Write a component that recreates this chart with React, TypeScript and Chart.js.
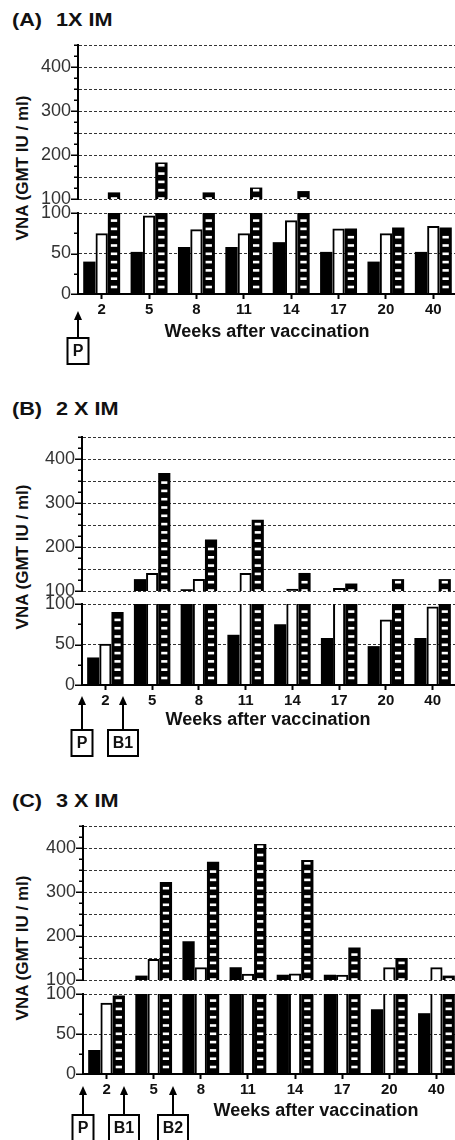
import React, { useEffect, useRef } from 'react';
import { Chart, registerables } from 'chart.js';

Chart.register(...registerables);

// ---------- data ----------
const WEEKS = ['2', '5', '8', '11', '14', '17', '20', '40'];

const A_BLACK = [40, 52, 58, 58, 64, 52, 40, 52];
const A_WHITE = [75, 97, 80, 75, 91, 81, 75, 84];
const A_STRIPED = [115, 183, 115, 126, 118, 81, 82, 82];

const B_BLACK = [34, 127, 104, 62, 75, 58, 48, 58];
const B_WHITE = [51, 141, 127, 141, 105, 107, 81, 97];
const B_STRIPED = [90, 368, 217, 262, 141, 117, 127, 127];

const C_BLACK = [30, 110, 188, 129, 112, 112, 81, 76];
const C_WHITE = [89, 148, 129, 114, 115, 112, 129, 129];
const C_STRIPED = [98, 323, 369, 409, 373, 174, 150, 110];

const UPPER_LABELED = [100, 200, 300, 400];
const LOWER_LABELED = [0, 50, 100];

const A_MARKS = [{ label: 'P', at: -0.5 }];
const B_MARKS = [{ label: 'P', at: -0.5 }, { label: 'B1', at: 0.38 }];
const C_MARKS = [{ label: 'P', at: -0.5 }, { label: 'B1', at: 0.37 }, { label: 'B2', at: 1.41 }];

const X_TITLE = 'Weeks after vaccination';
const Y_TITLE = 'VNA (GMT IU / ml)';

// ---------- layout / style ----------
const FONT = '"Liberation Sans", Arial, Helvetica, sans-serif';
const PAD_TOP = 20;
const PAD_BOT_UP = 20;
const X_AXIS_H = 25;
const PAD_BOT_LO = 50;

type Layout = {
  upTop: number; upBot: number; loTop: number; loBot: number;
  left: number; right: number; headY: number; tipOff: number; boxOff: number;
  titleX: number; titleOff: number; yTitleY: number;
};

const PANELS = [
  {
    tag: '(A)', name: '1X IM', black: A_BLACK, white: A_WHITE, striped: A_STRIPED, marks: A_MARKS,
    L: { upTop: 45, upBot: 199, loTop: 213, loBot: 296, left: 78, right: 457, headY: 20, tipOff: 17, boxOff: 44, titleX: 267, titleOff: 38, yTitleY: 168 } as Layout,
  },
  {
    tag: '(B)', name: '2 X IM', black: B_BLACK, white: B_WHITE, striped: B_STRIPED, marks: B_MARKS,
    L: { upTop: 437, upBot: 591, loTop: 604, loBot: 687, left: 82, right: 456, headY: 409, tipOff: 11, boxOff: 45, titleX: 268, titleOff: 35, yTitleY: 557 } as Layout,
  },
  {
    tag: '(C)', name: '3 X IM', black: C_BLACK, white: C_WHITE, striped: C_STRIPED, marks: C_MARKS,
    L: { upTop: 826, upBot: 980, loTop: 994, loBot: 1076, left: 83, right: 460, headY: 801, tipOff: 12, boxOff: 41, titleX: 316, titleOff: 37, yTitleY: 948 } as Layout,
  },
];

type Panel = typeof PANELS[number];

function makeChart(canvas: HTMLCanvasElement, p: Panel, upper: boolean) {
  const L = p.L;
  const cut = (arr: number[]) => (upper ? arr.map((v) => (v > 100 ? v : null)) : arr.map((v) => Math.min(v, 100)));
  const labeled = upper ? UPPER_LABELED : LOWER_LABELED;

  const stripes = {
    id: 'stripes',
    afterDatasetsDraw(chart: any) {
      const meta = chart.getDatasetMeta(2);
      const ctx = chart.ctx;
      const a = chart.chartArea;
      ctx.save();
      ctx.beginPath();
      ctx.rect(a.left, a.top, a.right - a.left, a.bottom - a.top);
      ctx.clip();
      ctx.fillStyle = '#fff';
      meta.data.forEach((bar: any) => {
        const q = bar.getProps(['x', 'y', 'base', 'width'], true);
        if (!isFinite(q.y) || !isFinite(q.base)) return;
        const left = q.x - q.width / 2 + 3;
        const w = q.width - 6;
        const top = Math.min(q.y, q.base);
        const bottom = Math.max(q.y, q.base);
        const first = upper ? 3 : 6.5;
        for (let c = bottom - first; c - 1.3 > top + 1.2; c -= 8.3) {
          ctx.fillRect(left, c - 1.3, w, 2.6);
        }
      });
      ctx.restore();
    },
  };

  const extras = {
    id: 'extras',
    afterDraw(chart: any) {
      const ctx = chart.ctx;
      const ys = chart.scales.y;
      const x0 = chart.chartArea.left;
      ctx.save();
      ctx.strokeStyle = '#000';
      ctx.lineWidth = 1.5;
      ys.ticks.forEach((t: any) => {
        const y = Math.round(ys.getPixelForValue(t.value)) + 0.25;
        const major = labeled.includes(t.value);
        ctx.beginPath();
        ctx.moveTo(x0 - 1, y);
        ctx.lineTo(x0 - (major ? 7 : 4), y);
        ctx.stroke();
      });
      if (!upper) {
        const xs = chart.scales.x;
        const base = chart.chartArea.bottom;
        // x title
        ctx.fillStyle = '#111';
        ctx.font = `bold 18px ${FONT}`;
        ctx.textAlign = 'center';
        ctx.textBaseline = 'middle';
        ctx.fillText(X_TITLE, L.titleX, base + L.titleOff);
        // annotations
        p.marks.forEach((m) => {
          const x = Math.round(xs.getPixelForValue(m.at));
          const tip = base + L.tipOff;
          const boxTop = base + L.boxOff;
          const bw = m.label.length > 1 ? 30 : 21;
          const bh = 26;
          ctx.strokeStyle = '#000';
          ctx.fillStyle = '#000';
          ctx.lineWidth = 2;
          ctx.beginPath();
          ctx.moveTo(x, tip + 6);
          ctx.lineTo(x, boxTop);
          ctx.stroke();
          ctx.beginPath();
          ctx.moveTo(x, tip);
          ctx.lineTo(x - 4, tip + 9);
          ctx.lineTo(x + 4, tip + 9);
          ctx.closePath();
          ctx.fill();
          ctx.strokeRect(x - bw / 2, boxTop, bw, bh);
          ctx.fillStyle = '#111';
          ctx.font = `bold 16px ${FONT}`;
          ctx.textAlign = 'center';
          ctx.textBaseline = 'middle';
          ctx.fillText(m.label, x, boxTop + bh / 2 + 1);
        });
      }
      ctx.restore();
    },
  };

  const whiteBorder = (c: any) =>
    !upper && p.white[c.dataIndex] > 100 ? { left: 2, right: 2, top: 0, bottom: 0 } : 2;

  return new Chart(canvas, {
    type: 'bar',
    data: {
      labels: WEEKS,
      datasets: [
        { label: 'black', data: cut(p.black), backgroundColor: '#000', borderColor: '#000', borderWidth: 0 },
        { label: 'white', data: cut(p.white), backgroundColor: 'rgba(255,255,255,0)', borderColor: '#000', borderWidth: whiteBorder as any },
        { label: 'striped', data: cut(p.striped), backgroundColor: '#000', borderColor: '#000', borderWidth: 0 },
      ],
    },
    options: {
      animation: false,
      responsive: false,
      maintainAspectRatio: false,
      events: [],
      layout: { padding: { top: PAD_TOP, bottom: upper ? PAD_BOT_UP : PAD_BOT_LO, left: 0, right: 0 } },
      plugins: { legend: { display: false }, tooltip: { enabled: false }, title: { display: false } },
      datasets: { bar: { categoryPercentage: 0.78, barPercentage: 1.0 } },
      scales: {
        x: {
          display: !upper,
          offset: true,
          grid: { display: true, offset: false, drawOnChartArea: false, drawTicks: true, tickLength: 5, tickColor: '#000', tickWidth: 2 },
          border: { display: true, color: '#000', width: 2 },
          ticks: { font: { family: FONT, size: 15, weight: 'bold' }, color: '#111', padding: 2, maxRotation: 0, autoSkip: false },
        },
        y: {
          min: upper ? 100 : 0,
          max: upper ? 450 : 100,
          afterFit: (s: any) => { s.width = L.left; },
          ticks: {
            stepSize: 25,
            autoSkip: false,
            padding: 7,
            color: '#333',
            font: { family: FONT, size: 18 },
            callback: (v: any) => (labeled.includes(Number(v)) ? String(v) : ''),
          },
          grid: {
            display: true,
            drawTicks: false,
            lineWidth: 1,
            color: (c: any) => {
              const v = c.tick ? c.tick.value : -1;
              return v % 50 === 0 && !(!upper && v === 0) ? '#333' : 'rgba(0,0,0,0)';
            },
          },
          border: { display: true, color: '#000', width: 2, dash: [3, 2] },
        },
      },
    } as any,
    plugins: [stripes, extras],
  });
}

function PanelView({ p }: { p: Panel }) {
  const upRef = useRef<HTMLCanvasElement>(null);
  const loRef = useRef<HTMLCanvasElement>(null);
  const L = p.L;
  useEffect(() => {
    const c1 = makeChart(upRef.current!, p, true);
    const c2 = makeChart(loRef.current!, p, false);
    return () => { c1.destroy(); c2.destroy(); };
  }, [p]);

  const upH = L.upBot - L.upTop + PAD_TOP + PAD_BOT_UP;
  const loH = PAD_TOP + (L.loBot - L.loTop) + X_AXIS_H + PAD_BOT_LO;
  const head: React.CSSProperties = {
    position: 'absolute', top: L.headY, transform: 'translateY(-50%) scaleX(1.14)', transformOrigin: 'left center',
    font: `bold 19px ${FONT}`, color: '#111', whiteSpace: 'pre', lineHeight: '22px',
  };
  return (
    <>
      <span style={{ ...head, left: 12 }}>{p.tag}</span>
      <span style={{ ...head, left: 56 }}>{p.name}</span>
      <div
        style={{
          position: 'absolute', left: 22, top: L.yTitleY, transform: 'translate(-50%, -50%) rotate(-90deg)',
          font: `bold 17px ${FONT}`, color: '#111', whiteSpace: 'nowrap', lineHeight: '19px',
        }}
      >
        {Y_TITLE}
      </div>
      <canvas
        ref={upRef}
        width={L.right}
        height={upH}
        style={{ position: 'absolute', left: 0, top: L.upTop - PAD_TOP, width: L.right, height: upH }}
      />
      <canvas
        ref={loRef}
        width={L.right}
        height={loH}
        style={{ position: 'absolute', left: 0, top: L.loTop - PAD_TOP, width: L.right, height: loH }}
      />
    </>
  );
}

export default function App() {
  return (
    <div
      style={{
        position: 'fixed', left: 0, top: 0, width: 455, height: 1140, overflow: 'hidden', background: '#fff',
      }}
    >
      {PANELS.map((p) => (
        <PanelView key={p.tag} p={p} />
      ))}
    </div>
  );
}
